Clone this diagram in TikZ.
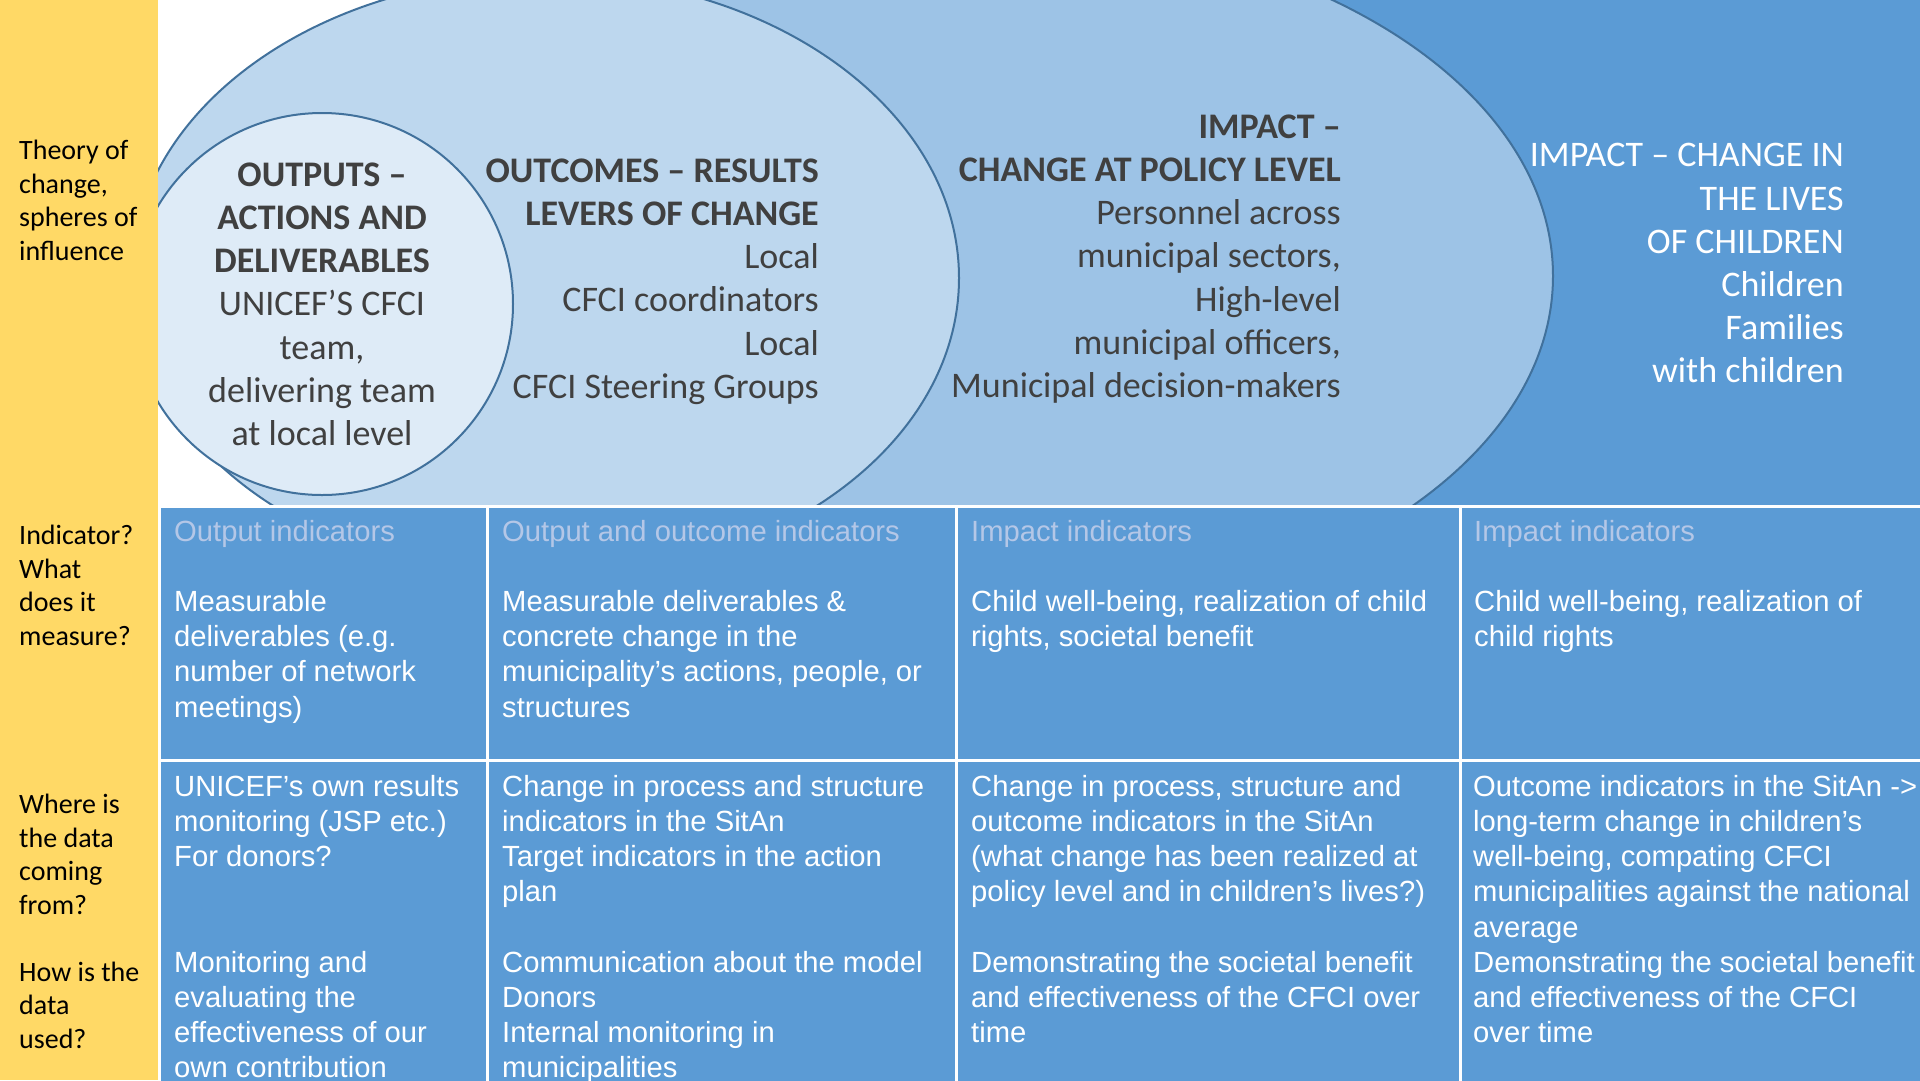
\documentclass[tikz,border=0pt]{standalone}
\usepackage{fontspec}
\setmainfont{Carlito}
\newfontfamily\calibrifont{Carlito}
\newfontfamily\arialfont{Liberation Sans}
\usetikzlibrary{shapes.geometric}

\definecolor{sidebar}{HTML}{FFD966}
\definecolor{pale}{HTML}{DEEBF7}
\definecolor{light}{HTML}{BDD7EE}
\definecolor{mid}{HTML}{9DC3E6}
\definecolor{deep}{HTML}{5B9BD5}
\definecolor{rim}{HTML}{41719C}
\definecolor{ink}{HTML}{404040}
\definecolor{faint}{HTML}{B4C7E7}

\tikzset{
  sphere/.style={draw=rim, line width=2pt, inner sep=0pt, outer sep=0pt},
  sidelabel/.style={anchor=north west, inner sep=0pt, align=left, text=black,
    font=\calibrifont\fontsize{28}{33.6}\selectfont},
  spheretext/.style={inner sep=0pt, font=\calibrifont\fontsize{36}{43.2}\selectfont},
  cell/.style={fill=deep, draw=white, line width=3pt},
  celltext/.style={anchor=north west, inner sep=0pt, align=left, text=white,
    font=\arialfont\fontsize{29.2}{35.2}\selectfont},
}

\begin{document}
\begin{tikzpicture}[x=1pt,y=-1pt]
\clip (0,0) rectangle (1920,1080);
\fill[white] (0,0) rectangle (1920,1080);

% spheres of influence, outermost first
\fill[deep] (700,0) rectangle (1920,510);
\node (policy) [ellipse, sphere, fill=mid, minimum width=1120pt, minimum height=694pt] at (993,276) {};
\node (outcome) [ellipse, sphere, fill=light, minimum width=828pt, minimum height=604pt] at (545,278) {};
\node (output) [circle, sphere, fill=pale, minimum size=382pt] at (322,304) {};

% left label column
\fill[sidebar] (0,0) rectangle (158,1080);

% indicator table
\foreach \xa/\xb in {159/487, 487/956, 956/1460, 1460/1925}
  \foreach \ya/\yb in {506/760, 760/1085}
    \draw[cell] (\xa,\ya) rectangle (\xb,\yb);

% row labels
\node (lab1) [sidelabel] at (19,136.0) {\strut Theory of\\change,\\spheres of\\influence};
\node (lab2) [sidelabel] at (19,521.0) {\strut Indicator?\\What\\does it\\measure?};
\node (lab3) [sidelabel] at (19,790.0) {\strut Where is\\the data\\coming\\from?};
\node (lab4) [sidelabel] at (19,957.5) {\strut How is the\\data\\used?};

% texts inside the spheres
\node (outputtxt) [spheretext, anchor=north, align=center, text=ink] at (322,155.8)
  {\strut\textbf{OUTPUTS –}\\\textbf{ACTIONS AND}\\\textbf{DELIVERABLES}\\UNICEF’S CFCI\\team,\\delivering team\\at local level};
\node (outcometxt) [spheretext, anchor=north east, align=right, text=ink] at (819,151.8)
  {\strut\textbf{OUTCOMES – RESULTS}\\\textbf{LEVERS OF CHANGE}\\Local\\CFCI coordinators\\Local\\CFCI Steering Groups};
\node (policytxt) [spheretext, anchor=north east, align=right, text=ink] at (1341,107.8)
  {\strut\textbf{IMPACT –}\\\textbf{CHANGE AT POLICY LEVEL}\\Personnel across\\municipal sectors,\\High-level\\municipal officers,\\Municipal decision-makers};
\node (childtxt) [spheretext, anchor=north east, align=right, text=white] at (1844,136.5)
  {\strut IMPACT – CHANGE IN\\THE LIVES\\OF CHILDREN\\Children\\Families\\with children};

% first table row
\node (c11) [celltext] at (174,516.2)
  {\strut\textcolor{faint}{Output indicators}\\[35.2pt]Measurable\\deliverables (e.g.\\number of network\\meetings)};
\node (c12) [celltext] at (502,516.2)
  {\strut\textcolor{faint}{Output and outcome indicators}\\[35.2pt]Measurable deliverables \&\\concrete change in the\\municipality’s actions, people, or\\structures};
\node (c13) [celltext] at (971,516.2)
  {\strut\textcolor{faint}{Impact indicators}\\[35.2pt]Child well-being, realization of child\\rights, societal benefit};
\node (c14) [celltext] at (1474,516.2)
  {\strut\textcolor{faint}{Impact indicators}\\[35.2pt]Child well-being, realization of\\child rights};

% second table row
\node (c21) [celltext] at (174,771.4)
  {\strut UNICEF’s own results\\monitoring (JSP etc.)\\For donors?\\[70.4pt]Monitoring and\\evaluating the\\effectiveness of our\\own contribution};
\node (c22) [celltext] at (502,771.4)
  {\strut Change in process and structure\\indicators in the SitAn\\Target indicators in the action\\plan\\[35.2pt]Communication about the model\\Donors\\Internal monitoring in\\municipalities};
\node (c23) [celltext] at (971,771.4)
  {\strut Change in process, structure and\\outcome indicators in the SitAn\\{(what} change has been realized at\\policy level and in children’s lives?)\\[35.2pt]Demonstrating the societal benefit\\and effectiveness of the CFCI over\\time};
\node (c24) [celltext] at (1473,771.4)
  {\strut Outcome indicators in the SitAn ->\\long-term change in children’s\\well-being, compating CFCI\\municipalities against the national\\average\\Demonstrating the societal benefit\\and effectiveness of the CFCI\\over time};
\end{tikzpicture}
\end{document}
